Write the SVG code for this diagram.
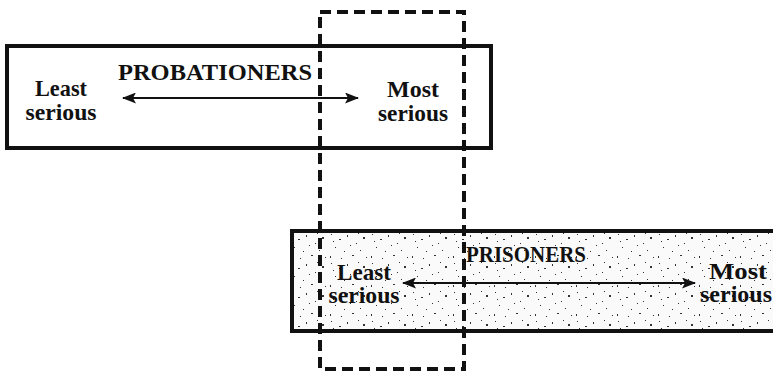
<svg xmlns="http://www.w3.org/2000/svg" width="773" height="379" viewBox="0 0 773 379">
<style>
.box{fill:#fff;stroke:#111;stroke-width:4}
.lbl{font-family:"Liberation Serif","Times New Roman",serif;font-weight:bold;font-size:23px;fill:#111}
.ttl{font-family:"Liberation Serif","Times New Roman",serif;font-weight:bold;font-size:24px;fill:#111}
.arr{stroke:#111;stroke-width:2;fill:none}
.dash{fill:none;stroke:#111;stroke-width:4;stroke-dasharray:11 6}
</style>
<defs>
<marker id="ah" viewBox="0 0 14 11" refX="13" refY="5.5" markerWidth="14" markerHeight="11" markerUnits="userSpaceOnUse" orient="auto-start-reverse">
<path d="M0,0 L14,5.5 L0,11 L3,5.5 Z" fill="#111"/>
</marker>
<pattern id="speck" width="41" height="29" patternUnits="userSpaceOnUse">
<rect width="41" height="29" fill="#fafafa"/>
<g fill="#333">
<rect x="3" y="2" width="1" height="1"/>
<rect x="11" y="7" width="2" height="1"/>
<rect x="19" y="3" width="1" height="2"/>
<rect x="28" y="11" width="1" height="1"/>
<rect x="35" y="5" width="2" height="2"/>
<rect x="7" y="15" width="1" height="1"/>
<rect x="16" y="19" width="1" height="1"/>
<rect x="24" y="23" width="2" height="1"/>
<rect x="32" y="18" width="1" height="1"/>
<rect x="38" y="25" width="1" height="1"/>
<rect x="2" y="24" width="1" height="2"/>
<rect x="13" y="26" width="1" height="1"/>
<rect x="22" y="13" width="1" height="1"/>
<rect x="30" y="1" width="1" height="1"/>
<rect x="5" y="9" width="1" height="1"/>
</g>
</pattern>
</defs>
<g id="probationers">
<rect class="box" x="7" y="46" width="484" height="102"/>
<text class="ttl" x="215" y="80" text-anchor="middle" textLength="194" lengthAdjust="spacingAndGlyphs">PROBATIONERS</text>
<text class="lbl" x="61" y="96" text-anchor="middle" textLength="52" lengthAdjust="spacingAndGlyphs">Least</text>
<text class="lbl" x="61" y="120" text-anchor="middle" textLength="71" lengthAdjust="spacingAndGlyphs">serious</text>
<text class="lbl" x="413" y="97" text-anchor="middle" textLength="52" lengthAdjust="spacingAndGlyphs">Most</text>
<text class="lbl" x="413" y="121" text-anchor="middle" textLength="70" lengthAdjust="spacingAndGlyphs">serious</text>
</g>
<g id="prisoners">
<rect class="box" x="292" y="231" width="490" height="100" style="fill:url(#speck)"/>
<text class="ttl" x="526" y="262" text-anchor="middle" textLength="120" lengthAdjust="spacingAndGlyphs">PRISONERS</text>
<text class="lbl" x="364" y="280" text-anchor="middle" textLength="54" lengthAdjust="spacingAndGlyphs">Least</text>
<text class="lbl" x="364" y="303" text-anchor="middle" textLength="71" lengthAdjust="spacingAndGlyphs">serious</text>
<text class="lbl" x="738" y="279" text-anchor="middle" textLength="58" lengthAdjust="spacingAndGlyphs">Most</text>
<text class="lbl" x="736" y="302" text-anchor="middle" textLength="72" lengthAdjust="spacingAndGlyphs">serious</text>
</g>
<g id="connectors">
<line class="arr" x1="123" y1="98" x2="358" y2="98" marker-start="url(#ah)" marker-end="url(#ah)"/>
<line class="arr" x1="403" y1="283" x2="695" y2="283" marker-start="url(#ah)" marker-end="url(#ah)"/>
</g>
<g id="overlap">
<rect class="dash" x="320" y="12" width="144" height="357"/>
</g>
</svg>
